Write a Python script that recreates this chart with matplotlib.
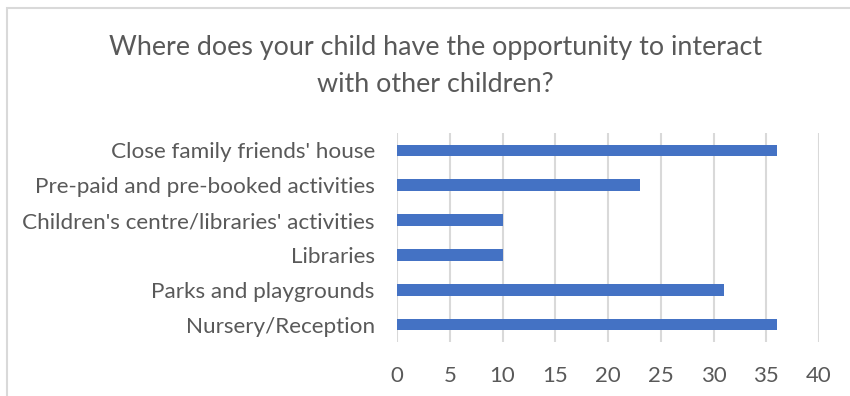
import matplotlib.pyplot as plt
from matplotlib.patches import Rectangle

plt.rcParams['font.family'] = ['Lato', 'DejaVu Sans']

places = ['Nursery/Reception', 'Parks and playgrounds', 'Libraries',
          "Children's centre/libraries' activities",
          'Pre-paid and pre-booked activities', "Close family friends' house"]
counts = [36, 31, 10, 10, 23, 36]
x_ticks = [0, 5, 10, 15, 20, 25, 30, 35, 40]

text_grey = '#595959'
grid_grey = '#D9D9D9'
bar_blue = '#4472C4'

fig = plt.figure(figsize=(8.5, 3.96), dpi=100)
ax = fig.add_axes([397 / 850, 1 - 342 / 396, 422 / 850, 209 / 396])

ax.barh(range(len(places)), counts, height=0.335, color=bar_blue, zorder=3)
ax.set_xlim(0, 40)
ax.set_ylim(-0.5, len(places) - 0.5)
ax.set_xticks(x_ticks)
ax.set_yticks(range(len(places)))
ax.set_yticklabels(places)
ax.grid(axis='x', color=grid_grey, linewidth=1.5, zorder=0)
for s in ax.spines.values():
    s.set_visible(False)
ax.tick_params(axis='both', length=0, labelcolor=text_grey)
ax.tick_params(axis='y', pad=16, labelsize=16.2)
ax.tick_params(axis='x', pad=17, labelsize=16)

fig.text(0.512, 1 - 47 / 396, 'Where does your child have the opportunity to interact',
         ha='center', va='center', fontsize=19.4, color=text_grey)
fig.text(0.512, 1 - 85 / 396, 'with other children?',
         ha='center', va='center', fontsize=19.4, color=text_grey)

# chart frame, only left and top edges fall inside the image
fig.patches.append(Rectangle((7 / 850, -0.1), 1.2, 1.1 - 8 / 396, transform=fig.transFigure,
                             fill=False, edgecolor=grid_grey, linewidth=1.5))

fig.savefig('out.png', dpi=100)
